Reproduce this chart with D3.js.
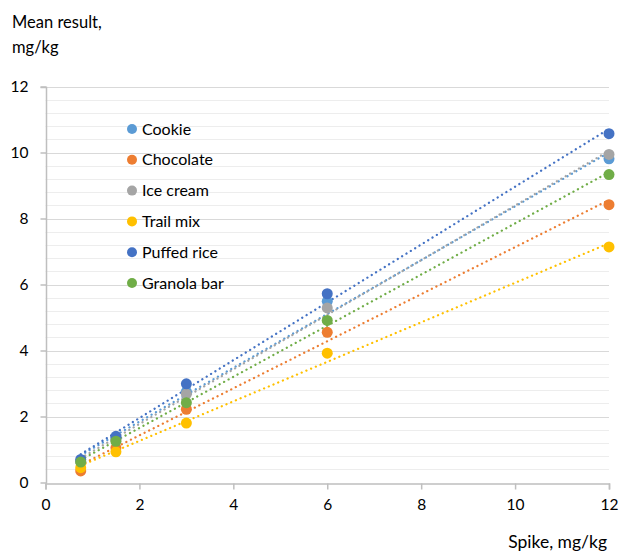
<!DOCTYPE html>
<html><head><meta charset="utf-8">
<script src="https://cdn.jsdelivr.net/npm/d3@7"></script>
<style>body{margin:0;background:#fff}svg{display:block}text{font-family:Lato,"Open Sans",sans-serif;fill:#000}</style>
</head><body><div id="c"></div>
<script>
const spikes = [0.75, 1.5, 3, 6, 12];
const seriesNames = ["Cookie","Chocolate","Ice cream","Trail mix","Puffed rice","Granola bar"];
const seriesColors = ["#5B9BD5","#ED7D31","#A5A5A5","#FFC000","#4472C4","#70AD47"];
const cookie     = [0.65, 1.33, 2.75, 5.49, 9.81];
const chocolate  = [0.35, 1.05, 2.22, 4.55, 8.42];
const iceCream   = [0.62, 1.30, 2.68, 5.29, 9.94];
const trailMix   = [0.45, 0.93, 1.80, 3.92, 7.14];
const puffedRice = [0.70, 1.40, 2.99, 5.72, 10.57];
const granolaBar = [0.62, 1.25, 2.42, 4.91, 9.33];
const xTicks = [0,2,4,6,8,10,12];
const yTicks = [0,2,4,6,8,10,12];
const values = [cookie, chocolate, iceCream, trailMix, puffedRice, granolaBar];

const W=619,H=552;
const svg=d3.select("#c").append("svg").attr("width",W).attr("height",H);
const x=d3.scaleLinear().domain([0,12]).range([45.5,609]);
const y=d3.scaleLinear().domain([0,12]).range([482.5,86.5]);

// minor gridlines
const minor=d3.range(0,12.01,0.4).filter(v=>Math.abs(v/2-Math.round(v/2))>1e-6);
svg.append("g").selectAll("line").data(minor).join("line")
  .attr("x1",x(0)).attr("x2",x(12)).attr("y1",d=>Math.round(y(d))+0.5).attr("y2",d=>Math.round(y(d))+0.5)
  .attr("stroke","#EDEDED").attr("stroke-width",1);
svg.append("g").selectAll("line").data(yTicks.filter(d=>d>0)).join("line")
  .attr("x1",x(0)).attr("x2",x(12)).attr("y1",d=>Math.round(y(d))+0.5).attr("y2",d=>Math.round(y(d))+0.5)
  .attr("stroke","#D9D9D9").attr("stroke-width",1);

// axes
const ya=svg.append("g").attr("transform",`translate(${Math.round(x(0))+0.5},0)`)
  .call(d3.axisLeft(y).tickValues(yTicks).tickSize(6).tickPadding(12).tickFormat(d3.format("d")));
const xa=svg.append("g").attr("transform",`translate(0,${Math.round(y(0))+0.5})`)
  .call(d3.axisBottom(x).tickValues(xTicks).tickSize(6).tickPadding(9).tickFormat(d3.format("d")));
[ya,xa].forEach(a=>{a.select(".domain").attr("stroke","#BFBFBF").attr("stroke-width",1.5);
  a.selectAll(".tick line").attr("stroke","#BFBFBF").attr("stroke-width",1.5);
  a.selectAll("text").style("font-size","15.5px").style("font-family","Lato, sans-serif").attr("fill","#000");});
ya.select(".domain").attr("d",`M-6,${Math.round(y(12))+0.5}H0V${Math.round(y(0))+0.5}`);

// trendlines (least squares)
values.forEach((vals,i)=>{
  const n=spikes.length, mx=d3.mean(spikes), my=d3.mean(vals);
  const b=d3.sum(spikes.map((s,k)=>(s-mx)*(vals[k]-my)))/d3.sum(spikes.map(s=>(s-mx)**2));
  const a=my-b*mx;
  svg.append("line").attr("x1",x(spikes[0])).attr("y1",y(a+b*spikes[0]))
    .attr("x2",x(spikes[n-1])).attr("y2",y(a+b*spikes[n-1]))
    .attr("stroke",seriesColors[i]).attr("stroke-width",2.25)
    .attr("stroke-dasharray","0.1 5").attr("stroke-linecap","round");
});
// markers
values.forEach((vals,i)=>{
  svg.append("g").selectAll("circle").data(vals).join("circle")
    .attr("cx",(d,k)=>x(spikes[k])).attr("cy",d=>y(d)).attr("r",5.5).attr("fill",seriesColors[i]);
});

// legend
seriesNames.forEach((nm,i)=>{
  const ly=129+i*30.8;
  svg.append("circle").attr("cx",132).attr("cy",ly).attr("r",5).attr("fill",seriesColors[i]);
  svg.append("text").attr("x",142).attr("y",ly+5.5).style("font-size","16px").text(nm);
});

// titles
svg.append("text").attr("x",12).attr("y",28).style("font-size","16.5px").text("Mean result,");
svg.append("text").attr("x",12).attr("y",53).style("font-size","16.5px").text("mg/kg");
svg.append("text").attr("x",607).attr("y",548).attr("text-anchor","end").style("font-size","17.5px").text("Spike, mg/kg");
</script></body></html>
